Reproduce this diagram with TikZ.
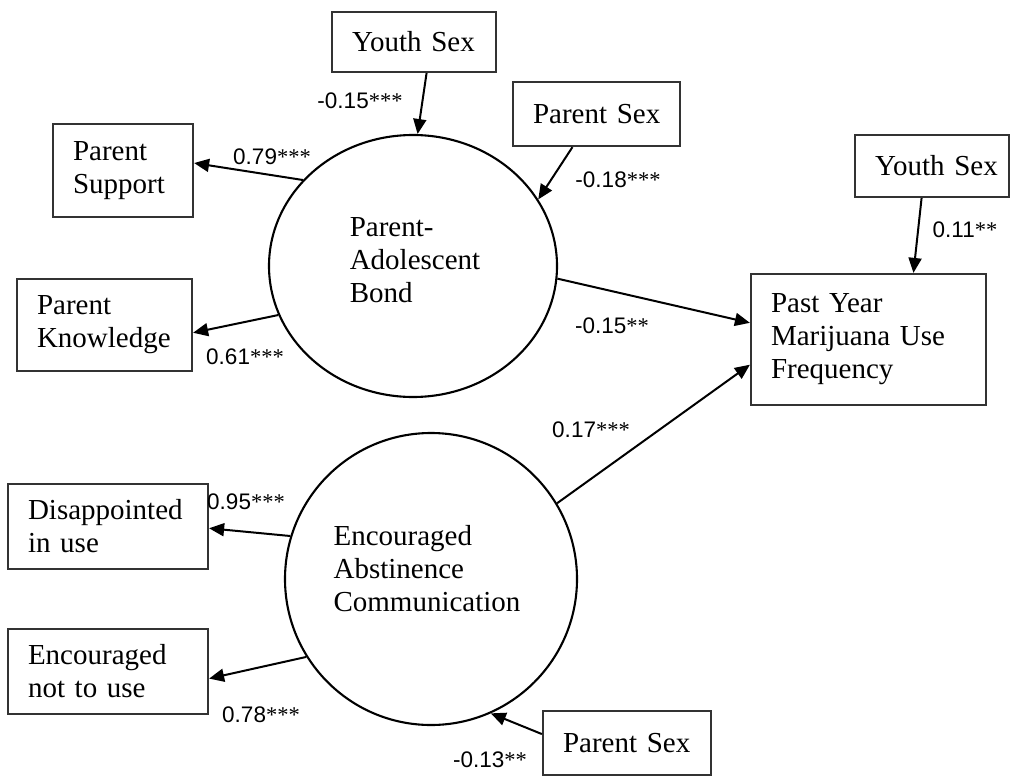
\documentclass[tikz,border=0pt]{standalone}
\usepackage{fontspec}
\setmainfont{Liberation Serif}
\newfontfamily\labfont{Liberation Sans}
\usetikzlibrary{arrows.meta,shapes.geometric}
% path coefficient: digits in sans, significance stars in serif
\newcommand\coef[2]{{\labfont #1}#2}

\begin{document}
\begin{tikzpicture}[x=1pt,y=-1pt,
  box/.style={draw=black!80, line width=2.2pt, rectangle, align=left,
    inner xsep=20pt, inner ysep=0pt, font=\fontsize{29}{33}\selectfont},
  latent/.style={draw=black, line width=2.1pt, inner sep=0pt},
  body/.style={align=left, inner sep=0pt, font=\fontsize{29}{33}\selectfont},
  link/.style={line width=2pt, -{Triangle[length=15pt,width=13pt]}},
  coeflab/.style={inner sep=0pt, font=\fontsize{22.5}{26}\selectfont}
]
\useasboundingbox (0,0) rectangle (1011,776);
\clip (0,0) rectangle (1011,776);

% latent constructs
\node[latent, ellipse, minimum width=288pt, minimum height=262pt] (bond) at (413,266) {};
\node[body] (bondtxt) at (415,260) {Parent-\\Adolescent\\Bond};
\node[latent, circle, minimum size=292pt] (enc) at (431,579) {};
\node[body] (enctxt) at (427,569) {Encouraged\\Abstinence\\Communication};

% observed variables
\node[box, minimum width=164pt, minimum height=60pt, text width=124pt] (ys1) at (414,42) {\mbox{Youth Sex}};
\node[box, minimum width=167pt, minimum height=64pt, text width=127pt] (ps1) at (596.5,114) {\mbox{Parent Sex}};
\node[box, minimum width=140pt, minimum height=93pt, text width=100pt] (psup) at (123,170.5) {Parent\\Support};
\node[box, minimum width=175pt, minimum height=92pt, text width=135pt] (pk) at (104.5,325) {Parent\\Knowledge};
\node[box, minimum width=154pt, minimum height=62pt, text width=114pt] (ys2) at (932,166) {\mbox{Youth Sex}};
\node[box, minimum width=235pt, minimum height=131pt, text width=195pt] (py) at (868.5,339.5) {Past Year\\Marijuana Use\\Frequency};
\node[box, minimum width=200pt, minimum height=85pt, text width=160pt] (dis) at (108,526.5) {Disappointed\\in use};
\node[box, minimum width=200pt, minimum height=85pt, text width=160pt] (enu) at (108,671.5) {Encouraged\\not to use};
\node[box, minimum width=168pt, minimum height=64pt, text width=128pt] (ps2) at (627,743) {\mbox{Parent Sex}};

% paths
\draw[link] (ys1.-68) -- (bond.88);
\draw[link] (ps1.-126) -- (bond.28);
\draw[link] (bond.142) -- (psup.6);
\draw[link] (bond.200) -- (pk.-5);
\draw[link] (bond.-5) -- (py.172);
\draw[link] (enc.31) -- (py.192);
\draw[link] (ys2.-108) -- (py.56);
\draw[link] (enc.163) -- (dis.-1);
\draw[link] (enc.212) -- (enu.-4);
\draw[link] (ps2.174) -- (enc.-66);

% coefficients
\node[coeflab] (c1) at (360,101) {\coef{-0.15}{***}};
\node[coeflab] (c2) at (618,180) {\coef{-0.18}{***}};
\node[coeflab] (c3) at (272,157) {\coef{0.79}{***}};
\node[coeflab] (c4) at (245,357) {\coef{0.61}{***}};
\node[coeflab] (c5) at (612,326) {\coef{-0.15}{**}};
\node[coeflab] (c6) at (591,430) {\coef{0.17}{***}};
\node[coeflab] (c7) at (965,230) {\coef{0.11}{**}};
\node[coeflab] (c8) at (246,502) {\coef{0.95}{***}};
\node[coeflab] (c9) at (261,715) {\coef{0.78}{***}};
\node[coeflab] (c10) at (490,760) {\coef{-0.13}{**}};
\end{tikzpicture}
\end{document}
